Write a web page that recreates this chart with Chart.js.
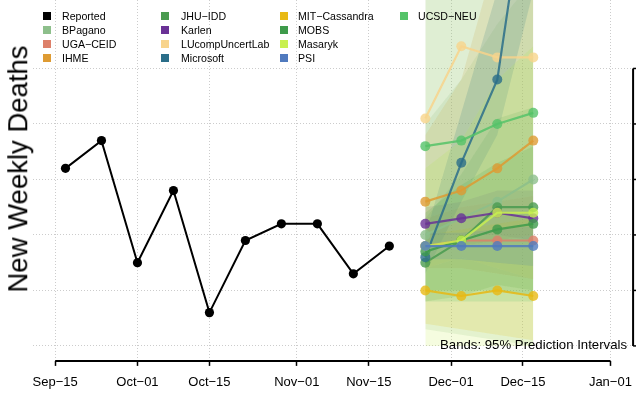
<!DOCTYPE html>
<html>
<head>
<meta charset="utf-8">
<script src="https://cdn.jsdelivr.net/npm/chart.js"></script>
<style>
html,body{margin:0;padding:0;background:#ffffff;}
#wrap{position:relative;width:636px;height:396px;overflow:hidden;background:#fff;font-family:"Liberation Sans",Arial,Helvetica,sans-serif;}
#c{position:absolute;left:0;top:0;}
.sw{position:absolute;width:8px;height:8px;}
.lt{position:absolute;font-size:10.6px;line-height:12px;color:#000;white-space:nowrap;}
#note{position:absolute;right:9px;top:337.8px;font-size:13.2px;line-height:13.2px;color:#000;white-space:nowrap;}
#ytitle{position:absolute;left:17.6px;top:169px;font-size:27.5px;line-height:27.5px;color:#000;white-space:nowrap;transform:translate(-50%,-50%) rotate(-90deg);}
</style>
</head>
<body>
<div id="wrap">
<canvas id="c" width="641" height="396"></canvas>
<div id="legend"></div>
<div id="note">Bands: 95% Prediction Intervals</div>
<div id="ytitle">New Weekly Deaths</div>
</div>
<script>
// ---------------- data ----------------
const startDate = '2022-09-15';
const reportedWeeks = ['2022-09-17','2022-09-24','2022-10-01','2022-10-08','2022-10-15','2022-10-22','2022-10-29','2022-11-05','2022-11-12','2022-11-19'];
const reportedDeaths = [160, 185, 75, 140, 30, 95, 110, 110, 65, 90];
const forecastWeeks = ['2022-11-26','2022-12-03','2022-12-10','2022-12-17'];
const axisTickDates = ['2022-09-15','2022-10-01','2022-10-15','2022-11-01','2022-11-15','2022-12-01','2022-12-15','2023-01-01'];
const axisTickLabels = ['Sep−15','Oct−01','Oct−15','Nov−01','Nov−15','Dec−01','Dec−15','Jan−01'];
const gridDeaths = [0, 50, 100, 150, 200, 250];

const modelNames = ['BPagano','UGA−CEID','IHME','JHU−IDD','Karlen','LUcompUncertLab','Microsoft','MIT−Cassandra','MOBS','Masaryk','PSI','UCSD−NEU'];
const modelColors = ['#8DBF8B','#DD806A','#DE9B33','#4A9B50','#6A3296','#F8D48C','#2B6E89','#E8B914','#3E9B4B','#C8F050','#507ABE','#55C369'];

// point forecasts (median) and 95% interval bounds, one value per forecast week
const medBPagano = [100, 115, 130, 150];
const lowBPagano = [15, 10, 5, 0];
const highBPagano = [200, 240, 290, 330];
const medUGA = [90, 95, 95, 95];
const lowUGA = [70, 70, 65, 60];
const highUGA = [115, 125, 130, 135];
const medIHME = [130, 140, 160, 185];
const lowIHME = [90, 90, 95, 100];
const highIHME = [190, 240, 355, 450];
const medJHU = [75, 95, 125, 125];
const lowJHU = [40, 45, 55, 50];
const highJHU = [115, 155, 205, 215];
const medKarlen = [110, 115, 120, 115];
const lowKarlen = [100, 100, 100, 95];
const highKarlen = [125, 130, 140, 140];
const medLUcomp = [205, 270, 260, 260];
const lowLUcomp = [70, 80, 70, 60];
const highLUcomp = [320, 420, 430, 440];
const medMicrosoft = [80, 165, 240, 458];
const lowMicrosoft = [65, 130, 190, 320];
const highMicrosoft = [100, 210, 320, 700];
const medMIT = [50, 45, 50, 45];
const lowMIT = [20, 15, 10, 5];
const highMIT = [100, 105, 110, 115];
const medMOBS = [85, 95, 105, 110];
const lowMOBS = [50, 50, 50, 45];
const highMOBS = [120, 145, 165, 180];
const medMasaryk = [90, 95, 120, 120];
const lowMasaryk = [0, 0, 0, 0];
const highMasaryk = [160, 185, 240, 270];
const medPSI = [90, 90, 90, 90];
const lowPSI = [78, 78, 75, 72];
const highPSI = [102, 102, 105, 108];
const medUCSD = [180, 185, 200, 210];
const lowUCSD = [40, 40, 40, 40];
const highUCSD = [400, 400, 400, 400];

const modelMed = [medBPagano, medUGA, medIHME, medJHU, medKarlen, medLUcomp, medMicrosoft, medMIT, medMOBS, medMasaryk, medPSI, medUCSD];
const modelLow = [lowBPagano, lowUGA, lowIHME, lowJHU, lowKarlen, lowLUcomp, lowMicrosoft, lowMIT, lowMOBS, lowMasaryk, lowPSI, lowUCSD];
const modelHigh = [highBPagano, highUGA, highIHME, highJHU, highKarlen, highLUcomp, highMicrosoft, highMIT, highMOBS, highMasaryk, highPSI, highUCSD];

// ---------------- helpers ----------------
function dayOf(s) {
  const t = d => Date.UTC(+d.slice(0,4), +d.slice(5,7) - 1, +d.slice(8,10));
  return (t(s) - t(startDate)) / 86400000;
}
function rgba(hex, a) {
  const n = parseInt(hex.slice(1), 16);
  return 'rgba(' + ((n >> 16) & 255) + ',' + ((n >> 8) & 255) + ',' + (n & 255) + ',' + a + ')';
}
const tickDays = axisTickDates.map(dayOf);
const reportedDays = reportedWeeks.map(dayOf);
const forecastDays = forecastWeeks.map(dayOf);
const span = tickDays[tickDays.length - 1] - tickDays[0];
const xMin = tickDays[0] - 0.04 * span;
const xMax = tickDays[tickDays.length - 1] + 0.04 * span;

// ---------------- datasets ----------------
const datasets = [];
datasets.push({
  label: 'Reported',
  data: reportedDays.map((d, i) => ({x: d, y: reportedDeaths[i]})),
  borderColor: '#000', backgroundColor: '#000',
  borderWidth: 2, pointRadius: 4.6, pointBorderWidth: 0,
  pointBackgroundColor: '#000', tension: 0, fill: false, order: 0
});
modelNames.forEach((name, k) => {
  datasets.push({
    label: name,
    data: forecastDays.map((d, i) => ({x: d, y: modelMed[k][i]})),
    borderColor: rgba(modelColors[k], 0.85),
    backgroundColor: rgba(modelColors[k], 0.85),
    pointBackgroundColor: rgba(modelColors[k], 0.8),
    borderWidth: 2.2, pointRadius: 5, pointBorderWidth: 0,
    tension: 0, fill: false, order: 100 - k
  });
});
modelNames.forEach((name, k) => {
  const idx = datasets.length;
  datasets.push({
    label: name + ' upper',
    data: forecastDays.map((d, i) => ({x: d, y: modelHigh[k][i]})),
    borderColor: 'rgba(0,0,0,0)', borderWidth: 0, pointRadius: 0,
    backgroundColor: rgba(modelColors[k], 0.18),
    fill: {target: idx + 1}, tension: 0, order: 300 - k
  });
  datasets.push({
    label: name + ' lower',
    data: forecastDays.map((d, i) => ({x: d, y: modelLow[k][i]})),
    borderColor: 'rgba(0,0,0,0)', borderWidth: 0, pointRadius: 0,
    backgroundColor: 'rgba(0,0,0,0)', fill: false, tension: 0, order: 300 - k
  });
});

// ---------------- extra drawing (axis line, neighbouring panel edge) ----------------
const rDecor = {
  id: 'rDecor',
  afterDraw(chart) {
    const ctx = chart.ctx, xs = chart.scales.x, ys = chart.scales.y, ca = chart.chartArea;
    ctx.save();
    ctx.strokeStyle = '#000';
    ctx.lineWidth = 2;
    ctx.beginPath();
    ctx.moveTo(xs.getPixelForValue(tickDays[0]), ca.bottom);
    ctx.lineTo(xs.getPixelForValue(tickDays[tickDays.length - 1]), ca.bottom);
    ctx.stroke();
    // edge of the neighbouring panel at the right
    const yTop = ys.getPixelForValue(gridDeaths[gridDeaths.length - 1]);
    const yBot = ys.getPixelForValue(gridDeaths[0]);
    const xr = ca.right + 0.5;
    ctx.beginPath();
    ctx.moveTo(xr, yTop); ctx.lineTo(xr, yBot);
    ctx.stroke();
    ctx.lineWidth = 1.5;
    gridDeaths.forEach(v => {
      const y = ys.getPixelForValue(v);
      ctx.beginPath(); ctx.moveTo(xr, y); ctx.lineTo(chart.width, y); ctx.stroke();
    });
    ctx.restore();
  }
};

Chart.defaults.font.family = '"Liberation Sans", Arial, Helvetica, sans-serif';
Chart.defaults.color = '#000';

new Chart(document.getElementById('c'), {
  type: 'line',
  data: {datasets},
  options: {
    responsive: false,
    animation: false,
    devicePixelRatio: 1,
    layout: {autoPadding: false, padding: {left: 33, right: 3, top: 0, bottom: -3.5}},
    plugins: {
      legend: {display: false},
      tooltip: {enabled: false},
      filler: {drawTime: 'beforeDatasetsDraw', propagate: false}
    },
    scales: {
      x: {
        type: 'linear', min: xMin, max: xMax, position: 'bottom',
        afterBuildTicks: s => { s.ticks = tickDays.map(v => ({value: v})); },
        ticks: {
          autoSkip: false, maxRotation: 0, minRotation: 0, padding: 9,
          font: {size: 13}, color: '#000',
          callback: (v, i) => axisTickLabels[i]
        },
        grid: {color: '#cccccc', lineWidth: 1, drawTicks: true, tickLength: 5, tickColor: '#000', tickWidth: 1.5},
        border: {display: false, dash: [1, 2]}
      },
      y: {
        type: 'linear', min: -13.5, max: 311.7, position: 'left',
        afterBuildTicks: s => { s.ticks = gridDeaths.map(v => ({value: v})); },
        ticks: {display: false},
        grid: {color: '#cccccc', lineWidth: 1, drawTicks: false},
        border: {display: false, dash: [1, 2]},
        title: {display: false}
      }
    }
  },
  plugins: [rDecor]
});

// ---------------- legend (R-style, column-major) ----------------
const legendNames = ['Reported'].concat(modelNames);
const legendColors = ['#000000'].concat(modelColors);
const colSquareX = [43, 161, 280, 400];
const colTextX = [62, 181, 298, 418];
const rowCenterY = [16, 30, 44, 58];
const lg = document.getElementById('legend');
legendNames.forEach((name, i) => {
  const col = Math.floor(i / 4), row = i % 4;
  const sw = document.createElement('div');
  sw.className = 'sw';
  sw.style.left = colSquareX[col] + 'px';
  sw.style.top = (rowCenterY[row] - 4) + 'px';
  sw.style.background = legendColors[i];
  lg.appendChild(sw);
  const t = document.createElement('div');
  t.className = 'lt';
  t.style.left = colTextX[col] + 'px';
  t.style.top = (rowCenterY[row] - 5.9) + 'px';
  t.textContent = name;
  lg.appendChild(t);
});
</script>
</body>
</html>
